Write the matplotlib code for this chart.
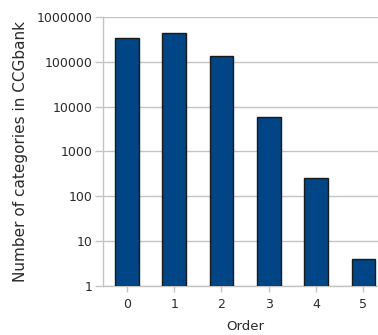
import numpy as np
import matplotlib.pyplot as plt
from matplotlib.ticker import FixedLocator, NullLocator

orders = [0, 1, 2, 3, 4, 5]
counts = [340000, 445000, 134000, 5800, 250, 4]
ytick_vals = [1, 10, 100, 1000, 10000, 100000, 1000000]
ytick_labels = ["1", "10", "100", "1000", "10000", "100000", "1000000"]

plt.rcParams['font.family'] = ['DejaVu Sans']
grey = '#c4c4c4'
text_col = '#2a2a2a'

fig = plt.figure(figsize=(3.78, 3.35), dpi=100)
ax = fig.add_axes([0.273, 0.147, 0.751, 0.802])

ax.bar(orders, counts, width=0.5, color='#004586',
       edgecolor='#1a1a1a', linewidth=1.0, zorder=3)

ax.set_yscale('log')
ax.set_ylim(1, 1000000)
ax.set_xlim(-0.5, 5.5)
ax.yaxis.set_major_locator(FixedLocator(ytick_vals))
ax.yaxis.set_minor_locator(NullLocator())
ax.set_yticklabels(ytick_labels)
ax.set_xticks(orders)
ax.set_xticklabels([str(o) for o in orders])

ax.grid(axis='y', color=grey, linewidth=1.0, zorder=0)
for side in ['top', 'right']:
    ax.spines[side].set_visible(False)
for side in ['left', 'bottom']:
    ax.spines[side].set_color(grey)
    ax.spines[side].set_linewidth(1.0)

ax.tick_params(axis='y', length=6, width=1, color=grey, labelsize=9,
               labelcolor=text_col, pad=2)
ax.tick_params(axis='x', length=4, width=1, color=grey, labelsize=9,
               labelcolor=text_col, pad=5)

ax.set_xlabel('Order', fontsize=9.5, color=text_col, labelpad=6)
ax.set_ylabel('Number of categories in CCGbank', fontsize=11, color=text_col,
              labelpad=6)

fig.savefig('out.png', dpi=100)
